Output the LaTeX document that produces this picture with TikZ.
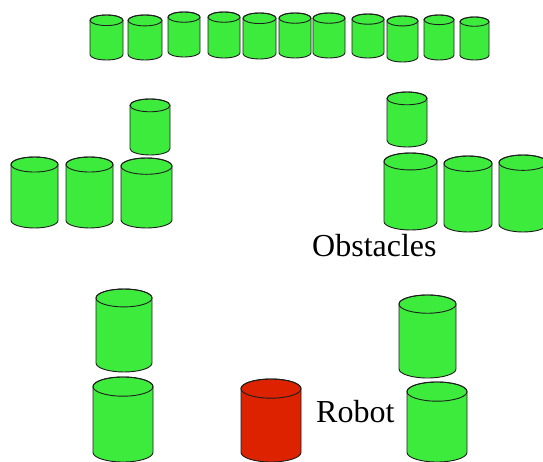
\documentclass[tikz,border=0pt]{standalone}
\usepackage{fontspec}
\setmainfont{Liberation Serif}

\definecolor{cangreen}{RGB}{61,235,61}
\definecolor{canred}{RGB}{221,34,0}
\definecolor{canedge}{RGB}{30,30,30}

% barrel: left, right, top, bottom (rows from the top edge), fill colour
\newcommand{\barrel}[5]{%
  \pgfmathsetmacro\cx{(#1+#2)/2}%
  \pgfmathsetmacro\rx{(#2-#1)/2}%
  \pgfmathsetmacro\ry{(#2-#1)*0.16}%
  \pgfmathsetmacro\yt{462-#3-\ry}%
  \pgfmathsetmacro\yb{462-#4+\ry}%
  \filldraw[fill=#5, draw=canedge, line width=0.9pt]
    (\cx pt-\rx pt,\yt pt) -- (\cx pt-\rx pt,\yb pt)
    arc[start angle=180, end angle=360, x radius=\rx pt, y radius=\ry pt]
    -- (\cx pt+\rx pt,\yt pt)
    arc[start angle=0, end angle=180, x radius=\rx pt, y radius=\ry pt] -- cycle;
  \draw[canedge, line width=0.9pt] (\cx pt,\yt pt) ellipse[x radius=\rx pt, y radius=\ry pt];
}

\begin{document}
\begin{tikzpicture}
\useasboundingbox (0,0) rectangle (543pt,462pt);
\clip (0,0) rectangle (543pt,462pt);

% top wall
\barrel{90}{123}{15}{60}{cangreen}
\barrel{128}{162}{15}{60}{cangreen}
\barrel{168}{200}{12}{57}{cangreen}
\barrel{208}{240}{12}{58}{cangreen}
\barrel{243}{276}{13}{59}{cangreen}
\barrel{279}{311}{13}{58}{cangreen}
\barrel{313}{345}{13}{58}{cangreen}
\barrel{352}{384}{14}{58}{cangreen}
\barrel{387}{418}{16}{62}{cangreen}
\barrel{424}{454}{15}{60}{cangreen}
\barrel{460}{489}{17}{60}{cangreen}

% left group
\barrel{130}{170}{99}{155}{cangreen}
\barrel{11}{58}{157}{228}{cangreen}
\barrel{66}{113}{157}{228}{cangreen}
\barrel{121}{172}{158}{228}{cangreen}

% right group
\barrel{387}{427}{92}{147}{cangreen}
\barrel{384}{437}{153}{230}{cangreen}
\barrel{444}{492}{156}{232}{cangreen}
\barrel{499}{547}{155}{232}{cangreen}

% lower pairs
\barrel{96}{152}{289}{372}{cangreen}
\barrel{93}{153}{377}{462}{cangreen}
\barrel{399}{456}{295}{378}{cangreen}
\barrel{407}{467}{382}{462}{cangreen}

% the robot
\barrel{241}{301}{379}{462}{canred}

\node[anchor=base west, inner sep=0pt, font=\fontsize{32}{36}\selectfont] (obst) at (312pt,205pt) {Obstacles};
\node[anchor=base west, inner sep=0pt, font=\fontsize{32}{36}\selectfont] (robot) at (316pt,39pt) {Robot};
\end{tikzpicture}
\end{document}
